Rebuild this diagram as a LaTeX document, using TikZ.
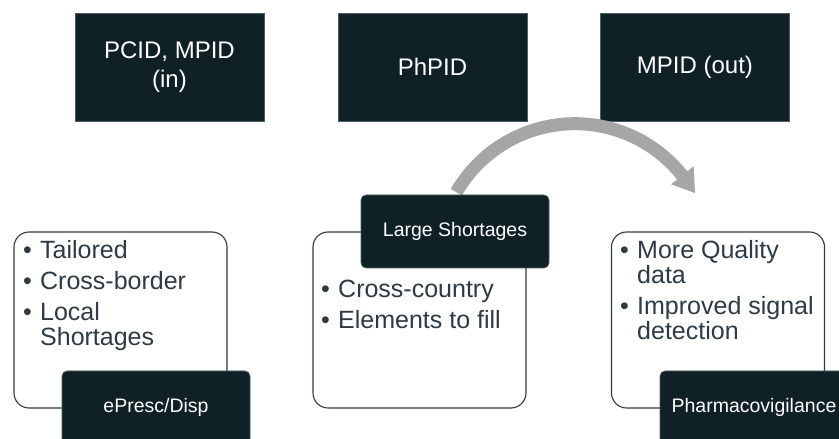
\documentclass[tikz,border=0pt]{standalone}
\usepackage{fontspec}
\setmainfont{Liberation Sans}
\usetikzlibrary{calc}

\definecolor{boxdark}{HTML}{0F2127}
\definecolor{boxedge}{HTML}{4F5C62}
\definecolor{cardedge}{HTML}{2F3B41}
\definecolor{bodytext}{HTML}{2E3A44}
\definecolor{arrowgray}{HTML}{A6A6A6}

\newcommand{\headfont}{\fontsize{24}{29}\selectfont}
\newcommand{\bodyfont}{\fontsize{25}{28}\selectfont}
\newcommand{\tagfont}{\fontsize{19.5}{23}\selectfont}

\tikzset{
  headbox/.style={fill=boxdark, draw=boxedge, line width=0.7pt,
    minimum width=189pt, minimum height=108pt, inner sep=0pt,
    text=white, font=\headfont, align=center},
  card/.style={fill=white, draw=cardedge, line width=1.1pt,
    rounded corners=15pt, minimum width=213pt, minimum height=176pt, inner sep=0pt},
  tagbox/.style={fill=boxdark, draw=boxedge, line width=0.6pt,
    rounded corners=5pt, minimum width=188pt, minimum height=73pt, inner sep=0pt,
    text=white, font=\tagfont},
  itemline/.style={anchor=base west, inner sep=0pt, text=bodytext, font=\bodyfont},
  dotmark/.style={anchor=base, inner sep=0pt, text=bodytext, font=\bodyfont}
}

\begin{document}
\begin{tikzpicture}[x=1pt, y=1pt]
  \useasboundingbox (0,0) rectangle (839,439);
  \fill[white] (0,0) rectangle (839,439);
  \clip (0,0) rectangle (839,439);

  % identifier headers
  \node[headbox] (pcid) at (169.5,372) {PCID, MPID\\(in)};
  \node[headbox] (phpid) at (432.5,372) {PhPID};
  \node[headbox] (mpidout) at (695,372) {MPID (out)};

  % curved arrow from the shortages stage to pharmacovigilance
  \coordinate (arcc) at (575,178.3);
  \fill[arrowgray]
    ($(arcc)+(150:143.5pt)$) arc[start angle=150, end angle=38.5, radius=143.5pt]
    -- ($(arcc)+(38.5:151.6pt)$)
    -- ($(arcc)+(29.4:137.8pt)$)
    -- ($(arcc)+(38.5:122.7pt)$)
    -- ($(arcc)+(38.5:130.5pt)$)
    arc[start angle=38.5, end angle=150, radius=130.5pt] -- cycle;

  % content cards
  \node[card] (cardl) at (120.5,119) {};
  \node[card] (cardm) at (419.5,119) {};
  \node[card] (cardr) at (718,119) {};

  % stage tags
  \node[tagbox] (presc) at (156,31.5) {ePresc/Disp};
  \node[tagbox] (large) at (455,207.5) {Large Shortages};
  \node[tagbox] (pharma) at (754,31.5) {Pharmacovigilance};

  % left card items
  \node[dotmark] (lb1) at (27.5,180.5) {•};
  \node[itemline] (lt1) at (40,180.5) {Tailored};
  \node[dotmark] (lb2) at (27.5,149) {•};
  \node[itemline] (lt2) at (40,149) {Cross-border};
  \node[dotmark] (lb3) at (27.5,118) {•};
  \node[itemline] (lt3) at (40,118) {Local};
  \node[itemline] (lt3b) at (40,93.5) {Shortages};

  % middle card items
  \node[dotmark] (mb1) at (325.5,141.7) {•};
  \node[itemline] (mt1) at (338,141.7) {Cross-country};
  \node[dotmark] (mb2) at (325.5,110.7) {•};
  \node[itemline] (mt2) at (338,110.7) {Elements to fill};

  % right card items
  \node[dotmark] (rb1) at (624.5,180) {•};
  \node[itemline] (rt1) at (637,180) {More Quality};
  \node[itemline] (rt1b) at (637,155.5) {data};
  \node[dotmark] (rb2) at (624.5,124) {•};
  \node[itemline] (rt2) at (637,124) {Improved signal};
  \node[itemline] (rt2b) at (637,99.5) {detection};
\end{tikzpicture}
\end{document}
